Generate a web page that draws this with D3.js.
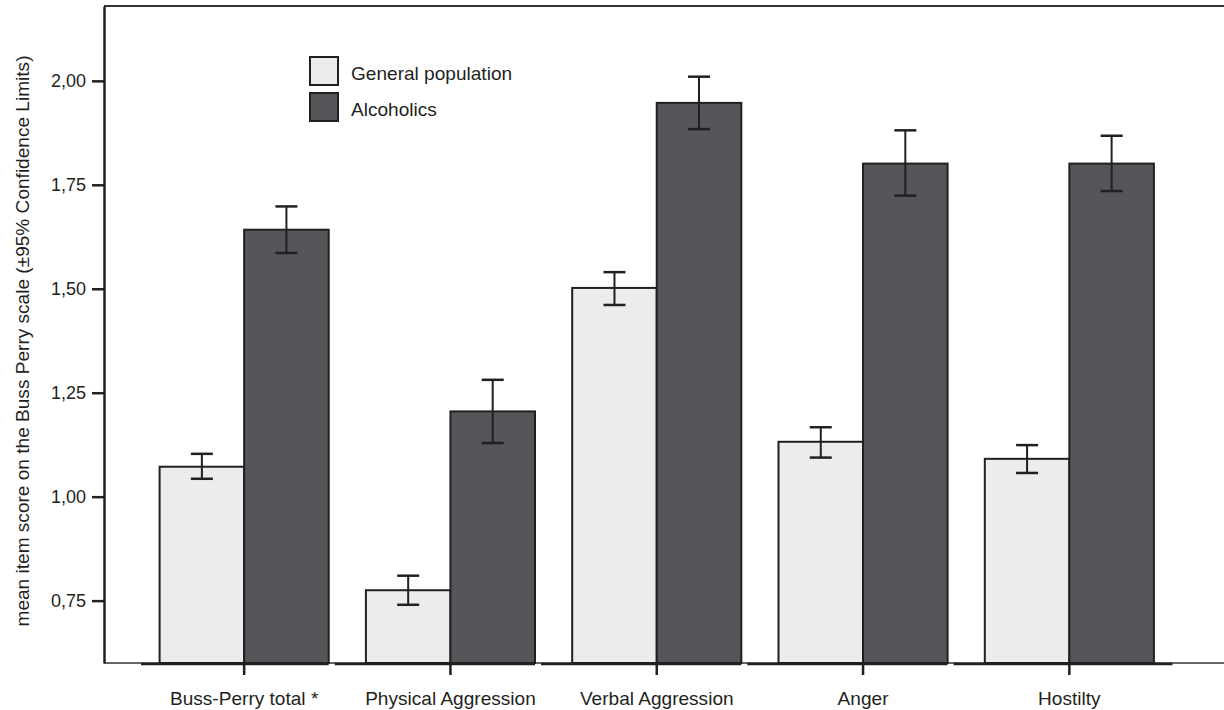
<!DOCTYPE html>
<html>
<head>
<meta charset="utf-8">
<script src="https://cdn.jsdelivr.net/npm/d3@7"></script>
<style>
  html, body { margin: 0; padding: 0; background: #fff; }
  svg { display: block; }
  text { font-family: "Liberation Sans", Arial, Helvetica, sans-serif; fill: #231f20; }
</style>
</head>
<body>
<script>
// ---- data ----
const categories = ["Buss-Perry total *", "Physical Aggression", "Verbal Aggression", "Anger", "Hostilty"];
const series = ["General population", "Alcoholics"];
const generalMean = [1.072, 0.775, 1.502, 1.132, 1.091];
const generalLow  = [1.043, 0.740, 1.461, 1.094, 1.057];
const generalHigh = [1.103, 0.810, 1.540, 1.167, 1.124];
const alcMean = [1.642, 1.205, 1.947, 1.801, 1.801];
const alcLow  = [1.586, 1.129, 1.884, 1.724, 1.735];
const alcHigh = [1.698, 1.281, 2.010, 1.881, 1.868];
const yTicks = [0.75, 1.00, 1.25, 1.50, 1.75, 2.00];
const yLabel = "mean item score on the Buss Perry scale (\u00B195% Confidence Limits)";

// ---- layout ----
const W = 1224, H = 710;
const frameLeft = 104, frameTop = 6, frameBottom = 663;
const bandLeft = 141, bandRight = 1172.5;
const colors = ["#ececec", "#55565a"];
const ink = "#231f20";
const fontSize = 18, stretch = 1.06;

const svg = d3.select("body").append("svg").attr("width", W).attr("height", H);

const y = d3.scaleLinear().domain([0.6, 2.18]).range([frameBottom, frameTop]);
const x0 = d3.scaleBand().domain(categories).range([bandLeft, bandRight]).padding(0);
const x1 = d3.scaleBand().domain(series).range([0, x0.bandwidth()]).paddingInner(0).paddingOuter(0.22);

const rows = categories.map((c, i) => ({
  cat: c,
  vals: [
    { s: series[0], m: generalMean[i], lo: generalLow[i], hi: generalHigh[i] },
    { s: series[1], m: alcMean[i], lo: alcLow[i], hi: alcHigh[i] }
  ]
}));

// frame (top + thin bottom, extending off to the right)
svg.append("line").attr("x1", frameLeft).attr("x2", W + 10).attr("y1", frameTop).attr("y2", frameTop)
  .attr("stroke", "#333").attr("stroke-width", 2.2);
svg.append("line").attr("x1", frameLeft).attr("x2", W + 10).attr("y1", frameBottom).attr("y2", frameBottom)
  .attr("stroke", "#333").attr("stroke-width", 1.5);

// bars
const g = svg.append("g").selectAll("g").data(rows).join("g")
  .attr("transform", d => `translate(${x0(d.cat)},0)`);

g.selectAll("rect").data(d => d.vals).join("rect")
  .attr("x", d => x1(d.s))
  .attr("y", d => y(d.m))
  .attr("width", x1.bandwidth())
  .attr("height", d => frameBottom - y(d.m))
  .attr("fill", (d, i) => colors[i])
  .attr("stroke", ink).attr("stroke-width", 2);

// error bars
const eb = g.selectAll("g.eb").data(d => d.vals).join("g").attr("class", "eb")
  .attr("transform", d => `translate(${x1(d.s) + x1.bandwidth() / 2},0)`);
eb.append("line").attr("x1", 0).attr("x2", 0).attr("y1", d => y(d.hi)).attr("y2", d => y(d.lo))
  .attr("stroke", ink).attr("stroke-width", 2);
eb.append("line").attr("x1", -11).attr("x2", 11).attr("y1", d => y(d.hi)).attr("y2", d => y(d.hi))
  .attr("stroke", ink).attr("stroke-width", 2.5);
eb.append("line").attr("x1", -11).attr("x2", 11).attr("y1", d => y(d.lo)).attr("y2", d => y(d.lo))
  .attr("stroke", ink).attr("stroke-width", 2.5);

// x axis segments
const segs = categories.map((c, i) => {
  const start = i === 0 ? bandLeft : x0(categories[i - 1]) + x1(series[1]) + x1.bandwidth() + 6;
  const end = i === categories.length - 1 ? bandRight : x0(c) + x1(series[1]) + x1.bandwidth();
  return { start, end };
});
svg.append("g").selectAll("line").data(segs).join("line")
  .attr("x1", d => d.start).attr("x2", d => d.end)
  .attr("y1", frameBottom + 1).attr("y2", frameBottom + 1)
  .attr("stroke", ink).attr("stroke-width", 2.5);

// x axis ticks + labels
const xAxis = d3.axisBottom(x0).tickSize(12).tickSizeOuter(0).tickPadding(17);
const xg = svg.append("g").attr("transform", `translate(0,${frameBottom})`).call(xAxis);
xg.select(".domain").remove();
xg.selectAll(".tick line").attr("stroke", ink).attr("stroke-width", 2.5);
xg.selectAll(".tick text").attr("font-size", fontSize).attr("fill", ink)
  .attr("font-family", "Liberation Sans, Arial, sans-serif")
  .attr("transform", `scale(${stretch},1)`);

// y axis
const fmt = v => d3.format(".2f")(v).replace(".", ",");
const yAxis = d3.axisLeft(y).tickValues(yTicks).tickFormat(fmt).tickSize(12).tickSizeOuter(0).tickPadding(6);
const yg = svg.append("g").attr("transform", `translate(${frameLeft},0)`).call(yAxis);
yg.select(".domain").attr("stroke", ink).attr("stroke-width", 2.5);
yg.selectAll(".tick line").attr("stroke", ink).attr("stroke-width", 2.5);
yg.selectAll(".tick text").attr("font-size", fontSize).attr("fill", ink)
  .attr("font-family", "Liberation Sans, Arial, sans-serif");

// y label
svg.append("text")
  .attr("transform", `translate(29,${(50 + 632) / 2}) rotate(-90) scale(${stretch},1)`)
  .attr("text-anchor", "middle")
  .attr("font-size", fontSize)
  .text(yLabel);

// legend
const lg = svg.append("g").attr("transform", "translate(310,57)");
const li = lg.selectAll("g").data(series).join("g").attr("transform", (d, i) => `translate(0,${i * 36})`);
li.append("rect").attr("width", 28).attr("height", 28)
  .attr("fill", (d, i) => colors[i]).attr("stroke", ink).attr("stroke-width", 2);
li.append("text").attr("transform", `translate(41,23) scale(${stretch},1)`)
  .attr("font-size", fontSize).text(d => d);
</script>
</body>
</html>
